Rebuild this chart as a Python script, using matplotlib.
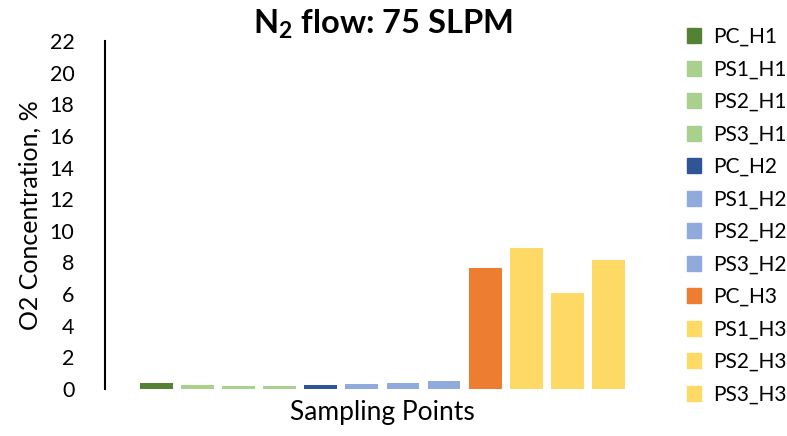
import numpy as np
import matplotlib
matplotlib.use("Agg")
import matplotlib.pyplot as plt
from matplotlib.patches import Patch

plt.rcParams['font.family'] = ['Lato', 'DejaVu Sans']
plt.rcParams['mathtext.fontset'] = 'custom'
plt.rcParams['mathtext.rm'] = 'Lato'
plt.rcParams['mathtext.bf'] = 'Lato:bold'

# sampling points and O2 values
labels = ['PC_H1', 'PS1_H1', 'PS2_H1', 'PS3_H1',
          'PC_H2', 'PS1_H2', 'PS2_H2', 'PS3_H2',
          'PC_H3', 'PS1_H3', 'PS2_H3', 'PS3_H3']
o2_values = [0.38, 0.25, 0.2, 0.2, 0.25, 0.32, 0.38, 0.5, 7.67, 8.94, 6.09, 8.12]
colors = ['#548235', '#A9D18E', '#A9D18E', '#A9D18E',
          '#2F5597', '#8FAADC', '#8FAADC', '#8FAADC',
          '#ED7D31', '#FFD966', '#FFD966', '#FFD966']

fig = plt.figure(figsize=(7.87, 4.36), dpi=100)
ax = fig.add_axes([0.1334, 0.108, 0.705, 0.798])

x = np.arange(len(labels))
ax.bar(x, o2_values, width=0.8, color=colors)

ax.set_xlim(-1.25, 12.25)
ax.set_ylim(0, 22)
ax.set_yticks(np.arange(0, 23, 2))
ax.set_xticks([])
ax.tick_params(axis='y', length=0, pad=22, labelsize=15.5)
for s in ['top', 'right', 'bottom']:
    ax.spines[s].set_visible(False)
ax.spines['left'].set_linewidth(1.5)

ax.set_ylabel('O2 Concentration, %', fontsize=18, labelpad=6)
ax.set_xlabel('Sampling Points', fontsize=19, labelpad=8)
ax.set_title(r'$\mathbf{N_2}$ flow: 75 SLPM', fontsize=23.5, fontweight='bold', pad=1)

handles = [Patch(color=c) for c in colors]
fig.legend(handles, labels, loc='upper left', bbox_to_anchor=(0.862, 0.957),
           frameon=False, fontsize=15, handlelength=0.7, handleheight=0.7,
           handletextpad=0.55, labelspacing=0.6, borderaxespad=0)

fig.savefig('out.png', dpi=100)
